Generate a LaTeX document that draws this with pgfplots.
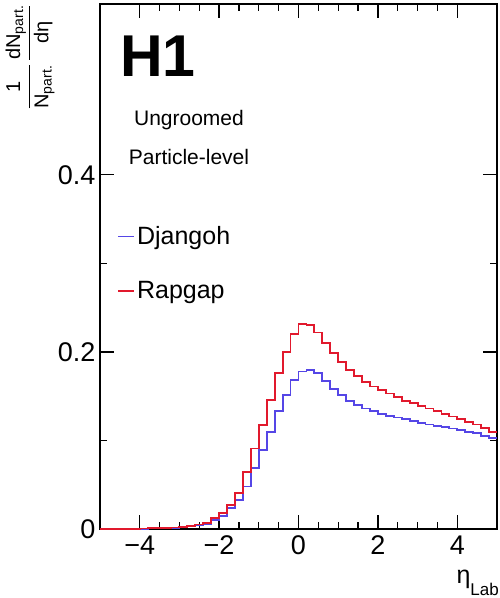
\documentclass[border=0pt]{standalone}
\usepackage{fontspec}
\setmainfont{Liberation Sans}
\usepackage{amsmath}
\usepackage{pgfplots}
\pgfplotsset{compat=1.18}
\definecolor{djblue}{RGB}{85,70,230}
\definecolor{rpred}{RGB}{225,25,45}
\begin{document}
\begin{tikzpicture}
\begin{axis}[
 scale only axis, width=397pt, height=525pt,
 xmin=-5, xmax=5, ymin=0, ymax=0.593,
 xtick={-4,-2,0,2,4}, xticklabels={−4,−2,0,2,4},
 ytick={0,0.2,0.4}, yticklabels={0,0.2,0.4},
 minor x tick num=3, minor y tick num=1,
 tick align=inside, major tick length=14pt, minor tick length=7pt,
 axis line style={line width=1.2pt},
 every tick/.style={black, line width=1.2pt},
 tick label style={font=\fontsize{27}{32}\selectfont},
 xticklabel style={yshift=-3pt}, yticklabel style={xshift=-1pt},
 legend style={at={(rel axis cs:0.043,0.580)}, anchor=north west, draw=none, fill=none,
   font=\fontsize{25}{30}\selectfont, row sep=31pt, inner sep=0pt,
   nodes={inner sep=2pt}},
 legend cell align=left,
 legend image code/.code={\draw[#1] (0pt,0pt) -- (16pt,0pt);},
]
\addplot[const plot mark left, djblue, line width=1.8pt] coordinates {
(-5.0,0.0001) (-4.8,0.0002) (-4.6,0.0002) (-4.4,0.0002) (-4.2,0.0003) (-4.0,0.0004)
(-3.8,0.0006) (-3.6,0.0008) (-3.4,0.0010) (-3.2,0.0014) (-3.0,0.0020) (-2.8,0.0028)
(-2.6,0.004) (-2.4,0.006) (-2.2,0.010) (-2.0,0.015) (-1.8,0.024) (-1.6,0.033)
(-1.4,0.048) (-1.2,0.069) (-1.0,0.089) (-0.8,0.110) (-0.6,0.133) (-0.4,0.151)
(-0.2,0.168) (0.0,0.178) (0.2,0.180) (0.4,0.176) (0.6,0.167) (0.8,0.158)
(1.0,0.151) (1.2,0.145) (1.4,0.140) (1.6,0.136) (1.8,0.133) (2.0,0.130)
(2.2,0.128) (2.4,0.126) (2.6,0.124) (2.8,0.122) (3.0,0.120) (3.2,0.118)
(3.4,0.1165) (3.6,0.115) (3.8,0.1135) (4.0,0.112) (4.2,0.110) (4.4,0.108)
(4.6,0.105) (4.8,0.1025) (5.0,0.1025)
};
\addlegendentry{Djangoh}
\addplot[const plot mark left, rpred, line width=1.8pt] coordinates {
(-5.0,0.0002) (-4.8,0.0002) (-4.6,0.0003) (-4.4,0.0003) (-4.2,0.0004) (-4.0,0.0005)
(-3.8,0.0007) (-3.6,0.0010) (-3.4,0.0013) (-3.2,0.0018) (-3.0,0.0025) (-2.8,0.0035)
(-2.6,0.005) (-2.4,0.007) (-2.2,0.012) (-2.0,0.018) (-1.8,0.027) (-1.6,0.041)
(-1.4,0.064) (-1.2,0.091) (-1.0,0.1175) (-0.8,0.146) (-0.6,0.176) (-0.4,0.200)
(-0.2,0.220) (0.0,0.232) (0.2,0.230) (0.4,0.222) (0.6,0.210) (0.8,0.199)
(1.0,0.189) (1.2,0.180) (1.4,0.173) (1.6,0.166) (1.8,0.161) (2.0,0.157)
(2.2,0.153) (2.4,0.149) (2.6,0.145) (2.8,0.142) (3.0,0.139) (3.2,0.136)
(3.4,0.133) (3.6,0.130) (3.8,0.127) (4.0,0.124) (4.2,0.121) (4.4,0.118)
(4.6,0.114) (4.8,0.110) (5.0,0.110)
};
\addlegendentry{Rapgap}
\end{axis}
\path ([shift={(-100pt,-69pt)}]current axis.south west) rectangle ([shift={(2pt,4pt)}]current axis.north east);
\node[anchor=west, inner sep=0pt, font=\fontsize{59}{62}\selectfont\bfseries] at ([shift={(20pt,473pt)}]current axis.south west) {H1};
\node[inner sep=0pt, font=\fontsize{21}{25}\selectfont] at ([shift={(89pt,409pt)}]current axis.south west) {Ungroomed};
\node[inner sep=0pt, font=\fontsize{21}{25}\selectfont] at ([shift={(89pt,372pt)}]current axis.south west) {Particle-level};
\node[rotate=90, inner sep=0pt, font=\fontsize{20}{24}\selectfont] at ([shift={(-70pt,472pt)}]current axis.south west)
 {$\displaystyle\frac{\text{1}}{\text{N}_{\text{part.}}}\,\frac{\text{dN}_{\text{part.}}}{\text{dη}}$};
\node[anchor=north east, inner sep=0pt] at ([shift={(2pt,-41pt)}]current axis.south east)
 {\fontsize{25}{30}\selectfont η\raisebox{-12pt}{\fontsize{17}{20}\selectfont Lab}};
\end{tikzpicture}
\end{document}
